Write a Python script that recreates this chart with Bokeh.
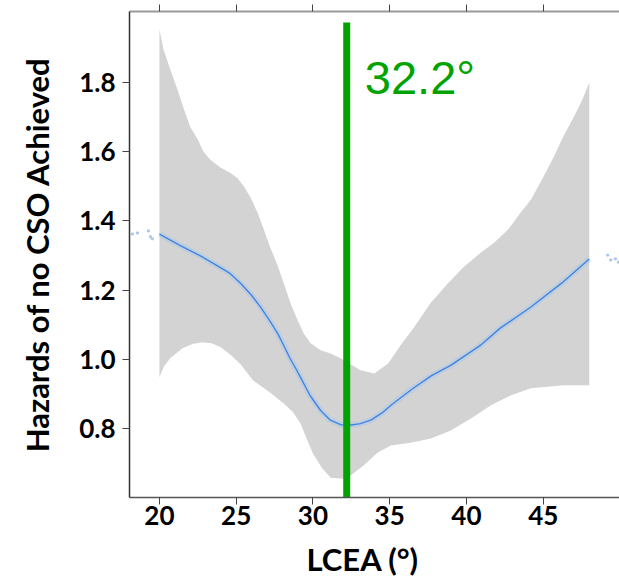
from bokeh.plotting import figure
from bokeh.models import LinearAxis, FixedTicker, Range1d, Title
from bokeh.core.properties import value
from bokeh.embed import file_html
from bokeh.resources import INLINE

# ---- data ----
curve_x = [20.0, 21.3, 22.7, 23.7, 24.6, 25.3, 26.0, 26.6, 27.2, 27.7, 28.1, 28.5, 28.9, 29.2,
           29.8, 30.5, 31.1, 31.8, 32.5, 33.1, 33.8, 34.5, 35.1, 36.4, 37.7, 39.0, 40.9,
           42.2, 44.2, 46.2, 48.0]
curve_y = [1.362, 1.330, 1.298, 1.272, 1.248, 1.219, 1.185, 1.150, 1.110, 1.075, 1.040, 1.003,
           0.972, 0.947, 0.896, 0.852, 0.825, 0.811, 0.810, 0.814, 0.825, 0.845, 0.868, 0.912,
           0.952, 0.983, 1.040, 1.090, 1.151, 1.220, 1.290]

upper_x = [20.0, 20.26, 20.7, 21.17, 21.6, 22.0, 22.5, 22.87, 23.3, 23.97, 24.6, 25.08, 25.5,
           25.93, 26.4, 26.78, 27.2, 27.69, 28.1, 28.54, 29.0, 29.39, 29.85, 30.5, 31.15, 31.8,
           33.1, 34.0, 34.9, 35.7, 36.6, 37.65, 38.8, 39.8, 40.9, 41.76, 42.7, 43.5, 44.2,
           45.0, 45.7, 46.3, 47.0, 47.55, 48.0]
upper_y = [1.954, 1.896, 1.838, 1.780, 1.722, 1.672, 1.635, 1.600, 1.577, 1.554, 1.539, 1.524,
           1.499, 1.468, 1.423, 1.378, 1.325, 1.272, 1.220, 1.162, 1.113, 1.075, 1.046, 1.026,
           1.017, 1.003, 0.968, 0.959, 0.988, 1.040, 1.093, 1.162, 1.220, 1.266, 1.307, 1.335,
           1.374, 1.422, 1.461, 1.526, 1.586, 1.643, 1.701, 1.750, 1.800]

lower_x = [20.0, 20.3, 20.7, 21.5, 22.2, 22.8, 23.4, 24.0, 24.7, 25.3, 26.1, 27.2, 28.1, 28.7,
           29.2, 29.6, 30.0, 30.6, 31.15, 32.0, 32.46, 33.3, 34.2, 35.07, 36.37, 37.68, 38.98,
           40.29, 41.6, 42.9, 44.2, 46.35, 48.0]
lower_y = [0.948, 0.980, 1.003, 1.032, 1.045, 1.049, 1.046, 1.035, 1.010, 0.985, 0.939, 0.904,
           0.872, 0.848, 0.814, 0.770, 0.728, 0.685, 0.658, 0.655, 0.664, 0.693, 0.730, 0.751,
           0.759, 0.771, 0.794, 0.829, 0.867, 0.896, 0.916, 0.925, 0.925]

outside_x = [18.24, 18.57, 19.28, 19.41, 19.54, 49.2, 49.4, 49.7, 49.9]
outside_y = [1.362, 1.365, 1.371, 1.354, 1.348, 1.301, 1.287, 1.290, 1.281]

cut_x = 32.2
cut_label = "32.2°"
x_ticks = [20, 25, 30, 35, 40, 45]
y_ticks = [0.8, 1.0, 1.2, 1.4, 1.6, 1.8]
y_tick_labels = ["0.8", "1.0", "1.2", "1.4", "1.6", "1.8"]

x_title = "LCEA (°)"
y_title = "Hazards of no CSO Achieved"

GREEN = "#00A300"
BLUE = "#3F86E4"

p = figure(frame_width=490, frame_height=486, output_backend="svg", toolbar_location=None,
           x_range=Range1d(18.05, 49.97), y_range=Range1d(0.6006, 2.005),
           min_border_left=129, min_border_right=0, min_border_top=11, min_border_bottom=82,
           x_axis_type=None, y_axis_type=None)
p.outline_line_color = None
p.xgrid.visible = False
p.ygrid.visible = False
p.background_fill_color = "white"
p.border_fill_color = "white"

band_x = upper_x + lower_x[::-1]
band_y = upper_y + lower_y[::-1]
p.patch(band_x, band_y, fill_color="#D3D3D3", line_color=None)

# halo of jittered points around the fit
p.line(curve_x, curve_y, line_color="#9FC2F0", line_width=6, line_alpha=0.35)
p.line(curve_x, curve_y, line_color=BLUE, line_width=1.4)
p.scatter(outside_x, outside_y, size=2, color="#9FC2F0", alpha=0.8, marker="square")

p.segment(x0=[cut_x], y0=[0.6006], x1=[cut_x], y1=[1.973], line_color=GREEN, line_width=7)
p.text(x=[33.38], y=[1.815], text=[cut_label], text_font=value("Liberation Sans"),
       text_font_size="47px", text_color=GREEN, text_baseline="alphabetic", text_align="left")

tick_font = "Lato"

xb = LinearAxis(ticker=FixedTicker(ticks=x_ticks, minor_ticks=[]))
xb.major_label_text_font = tick_font
xb.major_label_text_font_style = "bold"
xb.major_label_text_font_size = "26px"
xb.major_label_text_color = "black"
xb.major_label_standoff = 1
xb.major_tick_in = 0
xb.major_tick_out = 7
xb.major_tick_line_color = "#444444"
xb.axis_line_color = "#555555"
xb.axis_line_width = 1.5
p.add_layout(xb, "below")

p.add_layout(Title(text=x_title, align="left", offset=177, standoff=21,
                   text_font="Lato", text_font_style="bold", text_font_size="31px",
                   text_color="black"), "below")

xt = LinearAxis(ticker=FixedTicker(ticks=x_ticks, minor_ticks=[]))
xt.major_label_overrides = {t: "" for t in x_ticks}
xt.major_label_standoff = 0
xt.major_label_text_font_size = "1px"
xt.major_tick_in = 0
xt.major_tick_out = 7
xt.major_tick_line_color = "#444444"
xt.axis_line_color = "#999999"
xt.axis_line_width = 2
p.add_layout(xt, "above")

yl = LinearAxis(ticker=FixedTicker(ticks=y_ticks, minor_ticks=[]))
yl.major_label_overrides = {t: s for t, s in zip(y_ticks, y_tick_labels)}
yl.axis_label = y_title
yl.axis_label_text_font = tick_font
yl.axis_label_text_font_style = "bold"
yl.axis_label_text_font_size = "31px"
yl.axis_label_text_color = "black"
yl.axis_label_standoff = 20
yl.major_label_text_font = tick_font
yl.major_label_text_font_style = "bold"
yl.major_label_text_font_size = "26px"
yl.major_label_text_color = "black"
yl.major_label_standoff = 7
yl.major_tick_in = 0
yl.major_tick_out = 7
yl.major_tick_line_color = "#444444"
yl.axis_line_color = "#333333"
yl.axis_line_width = 1.5
p.add_layout(yl, "left")

open("out.html", "w").write(file_html(p, INLINE))
